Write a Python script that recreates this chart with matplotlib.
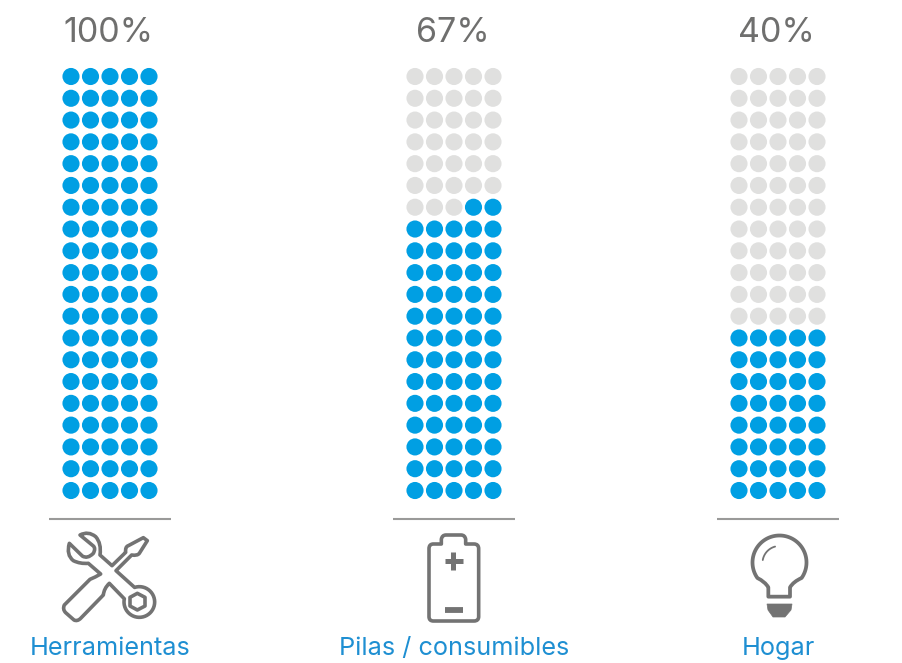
import numpy as np
import matplotlib
matplotlib.use("Agg")
import matplotlib.pyplot as plt
from matplotlib.path import Path
from matplotlib.patches import PathPatch, Polygon

# Data
categories = ["Herramientas", "Pilas / consumibles", "Hogar"]
percent_labels = ["100%", "67%", "40%"]
filled_dots = [100, 67, 40]
n_rows = 20
n_cols = 5

# Style
BLUE = "#009FE3"
LIGHT = "#E0E0DF"
GREY = "#6F6F6E"
ICON = "#737373"
RULE = "#9A9A99"
LABEL = "#1E8FD2"
FONT = "Inter"

W, H = 903, 663
centers = [110, 454, 778]
col_step = 19.5
row_top = 76.5
row_step = 21.79

fig = plt.figure(figsize=(W / 100, H / 100), dpi=100)
ax = fig.add_axes([0, 0, 1, 1])
ax.set_xlim(0, W)
ax.set_ylim(H, 0)
ax.axis("off")

for cx, cat, pct, k in zip(centers, categories, percent_labels, filled_dots):
    xs, ys, cs = [], [], []
    for r in range(n_rows):
        for c in range(n_cols):
            index = (n_rows - 1 - r) * n_cols + (n_cols - 1 - c)
            xs.append(cx + (c - 2) * col_step)
            ys.append(row_top + r * row_step)
            cs.append(BLUE if index < k else LIGHT)
    ax.scatter(xs, ys, s=152, c=cs, linewidths=0, zorder=2)
    ax.plot([cx - 61, cx + 61], [519, 519], color=RULE, lw=1.5, solid_capstyle="butt")
    ax.text(cx - 1.5, 33.5, pct, ha="center", va="center", fontsize=24.5, color=GREY, family=FONT)
    ax.text(cx, 648.5, cat, ha="center", va="center", fontsize=18.2, color=LABEL, family=FONT)


def outline(segments, ox, oy, close=True):
    """segments: start point, then (x, y) lines or (cx, cy, x, y) quadratic curves, in zoomed crop units."""
    verts, codes = [], []
    for i, s in enumerate(segments):
        s = [ox + v / 3 if j % 2 == 0 else oy + v / 3 for j, v in enumerate(s)]
        if i == 0:
            verts.append(s); codes.append(Path.MOVETO)
        elif len(s) == 2:
            verts.append(s); codes.append(Path.LINETO)
        else:
            verts += [s[:2], s[2:]]; codes += [Path.CURVE3, Path.CURVE3]
    if close:
        verts.append(verts[0]); codes.append(Path.CLOSEPOLY)
    return Path(verts, codes)


def stroke(path, lw=2.6):
    ax.add_patch(PathPatch(path, fill=False, ec=ICON, lw=lw, joinstyle="round", capstyle="round"))


# Tools icon
ring_angles = np.radians(np.linspace(-108, 192, 40))
ring = [(328 + 46 * np.cos(a), 306 + 46 * np.sin(a)) for a in ring_angles]
tool = [(118, 130), (157, 168), (172, 178, 190, 160), (198, 145, 190, 138), (150, 105),
        (175, 92, 197, 110), (215, 130, 210, 165), (246, 197), (287, 157), (285, 140, 295, 137),
        (340, 113), (352, 122), (328, 160), (322, 168, 305, 165), (258, 212)] + ring + [
        (238, 250), (222, 265, 220, 285), (152, 355), (142, 365, 132, 360), (107, 338),
        (97, 328, 103, 315), (180, 238), (195, 232, 212, 222), (175, 190), (150, 192, 130, 182),
        (108, 165, 118, 130)]
stroke(outline(tool, 30, 500))
nut = [(322, 280), (345, 292), (345, 318), (322, 330), (300, 318), (300, 292)]
stroke(outline(nut, 30, 500))

# Battery icon
bat = [(160, 132), (184, 132), (184, 118), (186, 105, 198, 105), (243, 105), (255, 105, 257, 118),
       (257, 132), (282, 132), (296, 132, 296, 146), (296, 350), (296, 363, 282, 363), (160, 363),
       (147, 363, 147, 350), (147, 146), (147, 132, 160, 132)]
stroke(outline(bat, 380, 500))
ax.plot([445, 463], [561, 561], color=ICON, lw=3.6, solid_capstyle="butt")
ax.plot([453.5, 453.5], [552, 570], color=ICON, lw=3.6, solid_capstyle="butt")
ax.plot([445, 463], [609.5, 609.5], color=ICON, lw=4.2, solid_capstyle="butt")

# Bulb icon
a = np.radians(np.linspace(-35, 215, 80))
bulb_x, bulb_y = 779.5 + 27 * np.cos(a), 562.5 - 27 * np.sin(a)
bulb = [(205, 290), (205, 262), (195, 245, (bulb_x[-1] - 700) * 3, (bulb_y[-1] - 500) * 3)]
bulb += [((x - 700) * 3, (y - 500) * 3) for x, y in zip(bulb_x[::-1], bulb_y[::-1])]
bulb += [(280, 245, 270, 262), (270, 290)]
stroke(outline(bulb, 700, 500, close=True), lw=2.7)
base = [(767, 604), (792, 604), (791, 610), (785, 617), (773, 617), (768, 610)]
ax.add_patch(Polygon(base, closed=True, fc=ICON, ec=ICON, lw=0.5))
h = np.radians(np.linspace(105, 170, 20))
ax.plot(779.5 + 17 * np.cos(h), 563 - 17 * np.sin(h), color=ICON, lw=1.3, solid_capstyle="round")

fig.savefig("out.png", dpi=100)
